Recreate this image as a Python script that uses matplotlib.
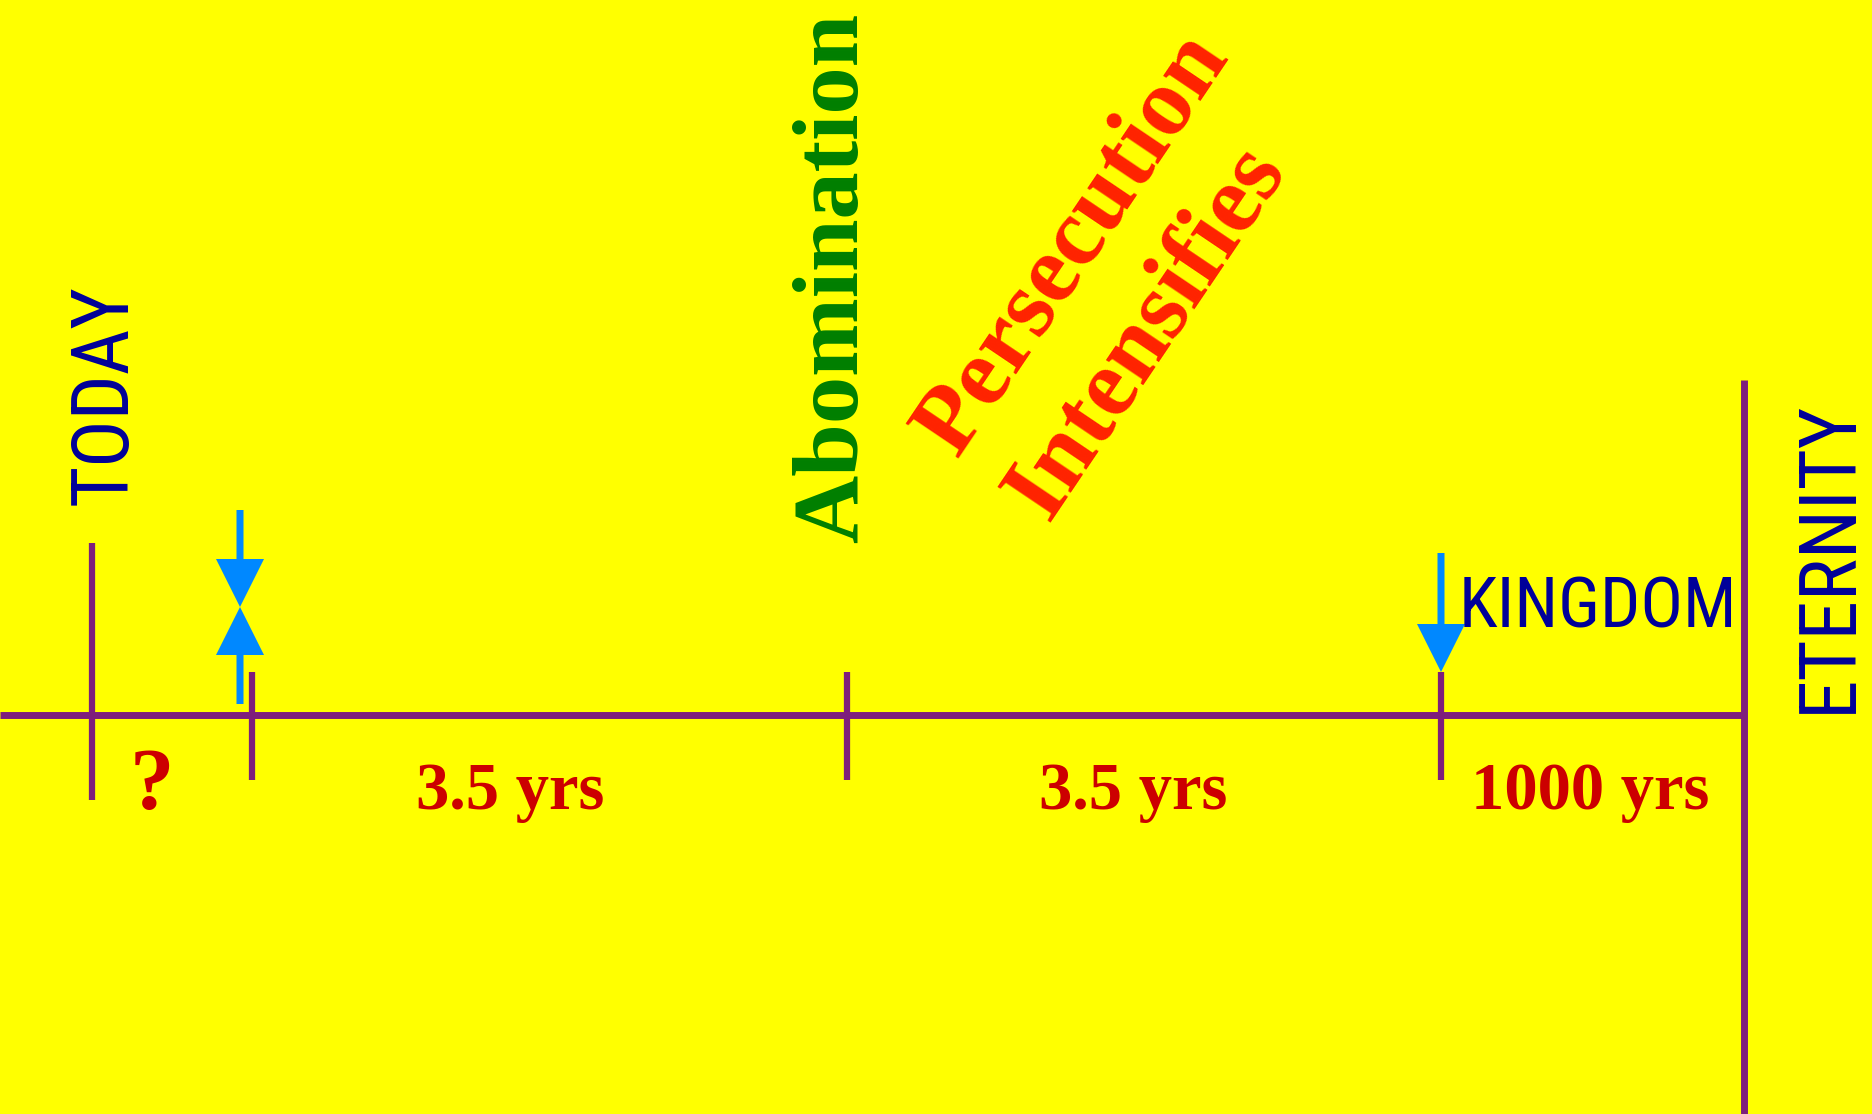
import matplotlib.pyplot as plt
from matplotlib.patches import FancyArrow


# timeline marks (picture is laid out in pixel units, y grows downward)
TICK_X = [92, 252, 847, 1441]
TICK_TOP = [543, 672, 672, 672]
TICK_BOTTOM = [800, 780, 780, 780]
AXIS_Y = 715
END_X = 1744
END_TOP = 380

PERIOD_LABELS = ["?", "3.5 yrs", "3.5 yrs", "1000 yrs"]
PERIOD_X = [152, 510, 1133, 1590]
PERIOD_SIZE = [64, 48, 48, 48]

# blue arrows: (x, tail_y, tip_y)
ARROWS = [(240, 510, 607), (240, 704, 607), (1441, 553, 672)]

YELLOW = "#FFFF00"
PURPLE = "#7E1E7C"
NAVY = "#000099"
GREEN = "#007F00"
DARK_RED = "#CC0000"
ORANGE_RED = "#FF2200"
ARROW_BLUE = "#0088FF"

SANS = ["Roboto Condensed", "Liberation Sans", "DejaVu Sans"]
SERIF = ["Liberation Serif", "DejaVu Serif"]


def main() -> None:
    fig = plt.figure(figsize=(18.72, 11.14), dpi=100, facecolor=YELLOW)
    ax = fig.add_axes([0, 0, 1, 1])
    ax.set_facecolor(YELLOW)
    ax.set_xlim(0, 1872)
    ax.set_ylim(1114, 0)
    ax.axis("off")

    # main line and the end wall
    ax.plot([0, END_X], [AXIS_Y, AXIS_Y], color=PURPLE, lw=5, solid_capstyle="butt")
    ax.plot([END_X, END_X], [END_TOP, 1114], color=PURPLE, lw=5, solid_capstyle="butt")
    for x, top, bottom in zip(TICK_X, TICK_TOP, TICK_BOTTOM):
        ax.plot([x, x], [top, bottom], color=PURPLE, lw=4.5, solid_capstyle="butt")

    for x, tail, tip in ARROWS:
        ax.add_patch(FancyArrow(x, tail, 0, tip - tail, width=7, head_width=48, head_length=48,
                                length_includes_head=True, color=ARROW_BLUE, lw=0))

    for label, x, size in zip(PERIOD_LABELS, PERIOD_X, PERIOD_SIZE):
        ax.text(x, 809, label, ha="center", va="baseline", color=DARK_RED,
                fontsize=size, fontweight="bold", family=SERIF)

    ax.text(127, 395, "TODAY", rotation=90, rotation_mode="anchor", ha="center", va="baseline",
            color=NAVY, fontsize=57, family=SANS)
    ax.text(1851, 556, "ETERNITY", rotation=90, rotation_mode="anchor", ha="center", va="baseline",
            color=NAVY, fontsize=57, family=SANS)
    ax.text(1459, 627, "KINGDOM", ha="left", va="baseline", color=NAVY, fontsize=51, family=SANS)

    ax.text(857, 278, "Abomination", rotation=90, rotation_mode="anchor", ha="center", va="baseline",
            color=GREEN, fontsize=68, fontweight="bold", family=SERIF)
    ax.text(1074, 245, "Persecution", rotation=56, rotation_mode="anchor", ha="center", va="center",
            color=ORANGE_RED, fontsize=70, fontweight="bold", family=SERIF)
    ax.text(1148, 332, "Intensifies", rotation=56, rotation_mode="anchor", ha="center", va="center",
            color=ORANGE_RED, fontsize=70, fontweight="bold", family=SERIF)

    fig.savefig("out.png", dpi=100, facecolor=YELLOW)
    plt.close(fig)


if __name__ == "__main__":
    main()
